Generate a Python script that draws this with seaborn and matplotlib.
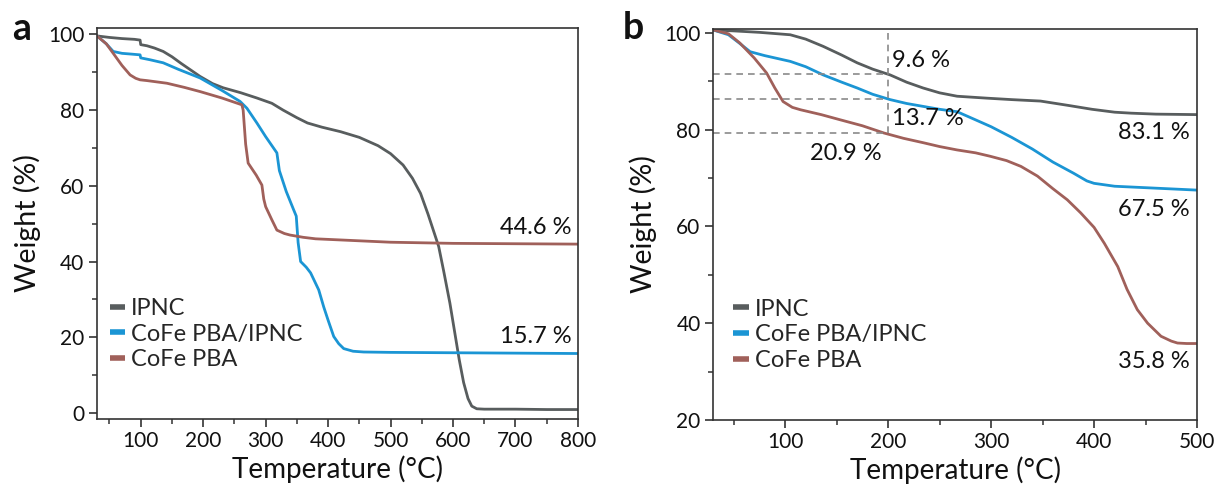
import numpy as np
import pandas as pd
import matplotlib
matplotlib.use("Agg")
import matplotlib.pyplot as plt
import seaborn as sns
from matplotlib.ticker import MultipleLocator

sns.set_theme(style="ticks")
plt.rcParams['font.family'] = ['Lato', 'DejaVu Sans']

samples = ["IPNC", "CoFe PBA/IPNC", "CoFe PBA"]
colors = ["#585d5e", "#1b95d4", "#a0605a"]

# ---------------- panel a (30-800 C) ----------------
ipnc_a_T = [30, 50, 70, 90, 99, 100, 110, 122, 136, 150, 165, 180, 195, 215, 232, 260, 286, 310, 328, 350, 367, 390,
            420, 450, 480, 500, 520, 535, 548, 560, 570, 577, 585, 595, 603, 610, 617, 624, 630, 638, 650, 700, 750, 800]
ipnc_a_W = [99.6, 99.2, 98.9, 98.7, 98.5, 97.3, 97.0, 96.4, 95.5, 94.1, 92.3, 90.6, 88.9, 87.0, 85.9, 84.6, 83.2, 81.8, 80.0, 78.0, 76.6, 75.5,
            74.3, 72.8, 70.6, 68.5, 65.5, 62.0, 58.0, 52.5, 47.5, 44.0, 37.5, 29.0, 21.0, 14.0, 8.0, 3.8, 1.8, 1.1, 1.0, 1.0, 0.9, 0.9]

blue_a_T = [30, 45, 56, 70, 85, 99, 100, 115, 136, 160, 195, 230, 259, 270, 286, 300, 318, 322, 333, 345, 349, 352, 356,
            365, 372, 385, 393, 400, 409, 417, 425, 440, 457, 500, 600, 700, 800]
blue_a_W = [99.6, 97.5, 95.5, 95.0, 94.8, 94.6, 93.8, 93.3, 92.5, 90.8, 88.5, 85.2, 82.3, 80.5, 76.6, 73.0, 68.7, 64.0, 58.5, 53.6, 52.0, 45.0, 40.0,
            38.5, 37.0, 32.5, 28.0, 24.5, 20.2, 18.3, 17.0, 16.3, 16.1, 16.0, 15.9, 15.8, 15.7]

brown_a_T = [30, 45, 56, 70, 83, 92, 99, 110, 142, 170, 195, 230, 262, 264, 268, 272, 285, 294, 297, 300, 310, 318,
             330, 339, 360, 380, 420, 500, 600, 700, 800]
brown_a_W = [99.6, 97.5, 95.0, 91.8, 89.3, 88.4, 88.0, 87.8, 87.1, 86.0, 84.9, 83.2, 81.4, 80.0, 71.0, 66.0, 62.8, 60.2, 56.5, 54.5, 51.0, 48.3,
             47.4, 47.0, 46.4, 46.0, 45.7, 45.1, 44.8, 44.7, 44.6]

# ---------------- panel b (30-500 C) ----------------
ipnc_b_T = [30, 50, 75, 105, 120, 137, 155, 170, 185, 202, 218, 234, 250, 267, 296, 320, 348, 375, 398, 420, 436, 460, 500]
ipnc_b_W = [100.6, 100.4, 100.1, 99.6, 98.7, 97.2, 95.4, 93.8, 92.5, 91.3, 89.8, 88.6, 87.6, 86.9, 86.5, 86.2, 85.9, 85.0, 84.2, 83.6, 83.4, 83.2, 83.1]

blue_b_T = [30, 45, 56, 66, 80, 105, 120, 137, 155, 170, 185, 202, 218, 234, 250, 267, 283, 300, 320, 340, 360, 380, 393,
            400, 420, 450, 500]
blue_b_W = [100.6, 99.6, 97.8, 96.1, 95.3, 94.1, 93.0, 91.3, 89.8, 88.6, 87.3, 86.2, 85.4, 84.8, 84.2, 83.7, 82.2, 80.6, 78.4, 76.0, 73.3, 71.0, 69.4,
            68.9, 68.3, 68.0, 67.5]

brown_b_T = [30, 45, 56, 70, 82, 90, 98, 107, 115, 135, 154, 175, 196, 215, 234, 250, 267, 285, 299, 315, 329, 345, 360,
             374, 387, 400, 410, 423, 432, 442, 452, 465, 475, 481, 490, 500]
brown_b_W = [100.6, 99.8, 97.9, 94.8, 91.7, 88.6, 85.8, 84.6, 84.1, 83.1, 82.0, 80.8, 79.3, 78.2, 77.3, 76.5, 75.8, 75.2, 74.5, 73.6, 72.4, 70.4, 67.8,
             65.5, 62.8, 59.8, 56.5, 51.7, 47.0, 42.8, 40.0, 37.3, 36.3, 35.9, 35.8, 35.8]

# annotations
a_labels = ["44.6 %", "15.7 %"]
a_label_pos = [(790, 48.9), (790, 20.1)]
b_labels_right = ["83.1 %", "67.5 %", "35.8 %"]
b_labels_right_pos = [(493, 79.5), (493, 63.4), (493, 32.0)]
b_loss_labels = ["9.6 %", "13.7 %", "20.9 %"]
b_loss_pos = [(204, 94.2), (204, 82.2), (159, 75.0)]
b_loss_levels = [91.4, 86.4, 79.2]
b_ref_T = 200


def make_df(Ts, Ws):
    frames = []
    for s, t, w in zip(samples, Ts, Ws):
        frames.append(pd.DataFrame({"T": t, "W": w, "sample": s}))
    return pd.concat(frames, ignore_index=True)


df_a = make_df([ipnc_a_T, blue_a_T, brown_a_T], [ipnc_a_W, blue_a_W, brown_a_W])
df_b = make_df([ipnc_b_T, blue_b_T, brown_b_T], [ipnc_b_W, blue_b_W, brown_b_W])

fig = plt.figure(figsize=(12.17, 4.90), dpi=100)
ax1 = fig.add_axes([0.0797, 0.1449, 0.3952, 0.798])
ax2 = fig.add_axes([0.5859, 0.1429, 0.3977, 0.798])

pal = dict(zip(samples, colors))
for ax, df in [(ax1, df_a), (ax2, df_b)]:
    sns.lineplot(data=df, x="T", y="W", hue="sample", hue_order=samples, palette=pal,
                 sort=False, estimator=None, lw=2.0, ax=ax)

ax1.set_xlim(30, 800)
ax1.set_ylim(-1.6, 101.7)
ax1.xaxis.set_major_locator(plt.FixedLocator(range(100, 801, 100)))
ax1.xaxis.set_minor_locator(plt.FixedLocator(range(50, 800, 100)))
ax1.yaxis.set_major_locator(MultipleLocator(20))
ax1.yaxis.set_minor_locator(plt.FixedLocator(range(10, 100, 20)))

ax2.set_xlim(30, 500)
ax2.set_ylim(20, 100.8)
ax2.xaxis.set_major_locator(plt.FixedLocator(range(100, 501, 100)))
ax2.xaxis.set_minor_locator(plt.FixedLocator(range(50, 500, 100)))
ax2.yaxis.set_major_locator(plt.FixedLocator(range(20, 101, 20)))
ax2.yaxis.set_minor_locator(plt.FixedLocator(range(30, 100, 20)))

for ax in (ax1, ax2):
    for sp in ax.spines.values():
        sp.set_visible(True)
        sp.set_color("#333333")
        sp.set_linewidth(1.2)
    ax.tick_params(which="major", direction="out", length=6, width=1.2, color="#333333",
                   labelsize=15, pad=3, labelcolor="#111111")
    ax.tick_params(which="minor", direction="out", length=3.5, width=1.1, color="#333333")
    ax.set_xlabel("Temperature (°C)", fontsize=20, labelpad=3, color="#111111")
    ax.set_ylabel("Weight (%)", fontsize=20.5, labelpad=5, color="#111111")
    leg = ax.get_legend()
    handles = leg.legend_handles
    leg.remove()
    lg = ax.legend(handles, samples, loc="upper left", frameon=False, fontsize=17,
                   handlelength=0.65, handletextpad=0.25, labelspacing=0.2,
                   borderaxespad=0, borderpad=0,
                   bbox_to_anchor=(0.027 if ax is ax1 else 0.042, 0.31))
    for ln in lg.get_lines():
        ln.set_linewidth(4)
        ln.set_solid_capstyle("butt")

# annotations panel a
for txt, (x, y) in zip(a_labels, a_label_pos):
    ax1.text(x, y, txt, fontsize=17, ha="right", va="center", color="#111111")

# panel b dashed guides
dash_kw = dict(color="#8a8a8a", lw=1.2, linestyles=(0, (4, 3)))
ax2.hlines(b_loss_levels, 30, b_ref_T, **dash_kw)
ax2.vlines([b_ref_T], min(b_loss_levels), 100.8, **dash_kw)

for txt, (x, y) in zip(b_loss_labels[:2], b_loss_pos[:2]):
    ax2.text(x, y, txt, fontsize=17, ha="left", va="center", color="#111111")
ax2.text(b_loss_pos[2][0], b_loss_pos[2][1], b_loss_labels[2], fontsize=17, ha="center", va="center", color="#111111")
for txt, (x, y) in zip(b_labels_right, b_labels_right_pos):
    ax2.text(x, y, txt, fontsize=17, ha="right", va="center", color="#111111")

fig.text(0.0099, 0.918, "a", fontsize=27, weight="bold", va="baseline", color="#111111")
fig.text(0.512, 0.920, "b", fontsize=27, weight="bold", va="baseline", color="#111111")

fig.savefig("out.png", dpi=100)
